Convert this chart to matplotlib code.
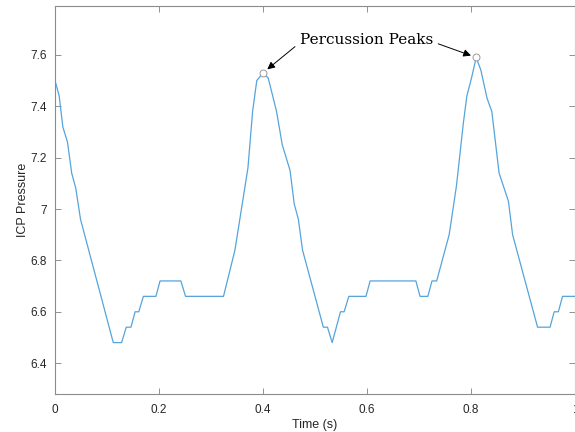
import numpy as np
import matplotlib.pyplot as plt
from matplotlib.ticker import FuncFormatter

# ICP trace breakpoints (time in s, pressure)
t = [0.000, 0.008, 0.015, 0.024, 0.032, 0.040, 0.049, 0.112, 0.128, 0.137,
     0.146, 0.154, 0.161, 0.170, 0.194, 0.202, 0.242, 0.251, 0.324, 0.346,
     0.371, 0.380, 0.388, 0.400, 0.410, 0.426, 0.437, 0.452, 0.460, 0.468,
     0.476, 0.516, 0.524, 0.533, 0.549, 0.556, 0.565, 0.598, 0.606, 0.694,
     0.702, 0.717, 0.725, 0.734, 0.758, 0.772, 0.785, 0.792, 0.801, 0.810,
     0.819, 0.831, 0.840, 0.854, 0.872, 0.880, 0.928, 0.952, 0.960, 0.968,
     0.976, 1.000]
icp = [7.50, 7.44, 7.32, 7.26, 7.14, 7.08, 6.96, 6.48, 6.48, 6.54,
       6.54, 6.60, 6.60, 6.66, 6.66, 6.72, 6.72, 6.66, 6.66, 6.84,
       7.16, 7.38, 7.50, 7.53, 7.51, 7.38, 7.25, 7.15, 7.02, 6.96,
       6.84, 6.54, 6.54, 6.48, 6.60, 6.60, 6.66, 6.66, 6.72, 6.72,
       6.66, 6.66, 6.72, 6.72, 6.90, 7.09, 7.33, 7.44, 7.51, 7.59,
       7.54, 7.43, 7.38, 7.14, 7.03, 6.90, 6.54, 6.54, 6.60, 6.60,
       6.66, 6.66]

# percussion peaks
peak_t = [0.400, 0.810]
peak_v = [7.53, 7.59]

label_pos = (0.60, 7.656)
arrow_starts = [(0.4615, 7.632), (0.737, 7.643)]

xticks = [0, 0.2, 0.4, 0.6, 0.8, 1]
yticks = [6.4, 6.6, 6.8, 7, 7.2, 7.4, 7.6]

plt.rcParams['font.family'] = ['Liberation Sans', 'DejaVu Sans']

fig = plt.figure(figsize=(5.75, 4.32), dpi=100)
ax = fig.add_axes([0.0957, 0.088, 0.9043, 0.898])

ax.plot(t, icp, color='#55a4dc', lw=0.9)
ax.plot(peak_t, peak_v, 'o', ms=5, mfc='white', mec='#9a9a9a', mew=0.7)

ax.text(label_pos[0], label_pos[1], 'Percussion Peaks', family='DejaVu Serif',
        fontsize=11, ha='center', va='center')
for (sx, sy), px, pv in zip(arrow_starts, peak_t, peak_v):
    ax.annotate('', xy=(px, pv), xytext=(sx, sy),
                arrowprops=dict(arrowstyle='-|>', color='black', lw=0.7,
                                mutation_scale=11, shrinkA=0, shrinkB=4))

ax.set_xlim(0, 1)
ax.set_ylim(6.28, 7.79)
ax.set_xticks(xticks)
ax.set_yticks(yticks)
fmt = FuncFormatter(lambda v, p: '%g' % v)
ax.xaxis.set_major_formatter(fmt)
ax.yaxis.set_major_formatter(fmt)

ax.tick_params(direction='in', top=True, right=True, length=4, width=0.6,
               color='#808080', labelsize=8.5, labelcolor='#262626', pad=6)
ax.tick_params(axis='x', pad=7)
for s in ax.spines.values():
    s.set_color('#8c8c8c')
    s.set_linewidth(0.8)

ax.set_xlabel('Time (s)', fontsize=9, color='#262626', labelpad=2.5)
ax.set_ylabel('ICP Pressure', fontsize=9, color='#262626', labelpad=0.5)

fig.savefig('out.png', dpi=100)
